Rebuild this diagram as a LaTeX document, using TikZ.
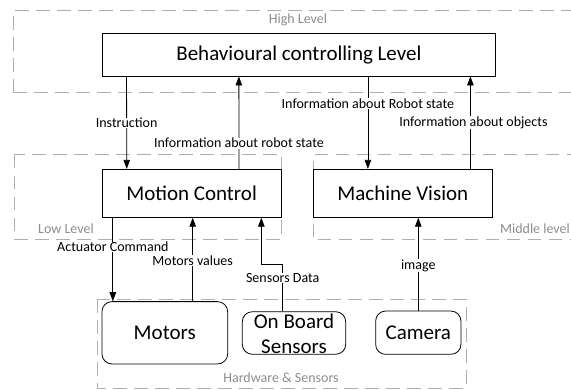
\documentclass[tikz,border=0pt]{standalone}
\usepackage{fontspec}
\setmainfont{Carlito}
\usetikzlibrary{arrows.meta,calc}
\definecolor{lvltext}{RGB}{140,140,140}
\definecolor{lvlline}{RGB}{175,175,175}
\tikzset{
  box/.style={draw=black, line width=0.8pt, rectangle, inner sep=0pt, font=\fontsize{21}{25}\selectfont},
  hwbox/.style={box, rounded corners=10pt},
  lvl/.style={draw=lvlline, line width=1pt, dash pattern=on 13.5pt off 7.5pt},
  lvllbl/.style={text=lvltext, font=\fontsize{14}{16}\selectfont, inner sep=0pt},
  arr/.style={draw=black, line width=0.8pt, -{Triangle[length=9pt,width=6.5pt]}},
  lbl/.style={fill=white, font=\fontsize{14}{16}\selectfont, inner sep=0.5pt, text=black}
}
\begin{document}
\begin{tikzpicture}[x=1pt,y=-1pt]
\useasboundingbox (0,0) rectangle (571,390);
% level frames
\draw[lvl] (13.3,93) -- (13.3,10.7) -- (580,10.7);
\draw[lvl] (13.3,93) -- (580,93);
\draw[lvl] (14.3,155) rectangle (281.7,239.3);
\draw[lvl] (580,154.3) -- (313.3,154.3) -- (313.3,240) -- (580,240);
\draw[lvl] (97.3,299.3) rectangle (466,388.3);
\node[lvllbl] (hl) at (298,20) {High Level};
\node[lvllbl] (ll) at (66,229) {Low Level};
\node[lvllbl] (ml) at (535,229) {Middle level};
\node[lvllbl] (hw) at (281,377.7) {Hardware \& Sensors};
% boxes
\node[box, minimum width=393.7pt, minimum height=42.7pt] (beh) at (298.9,54.7) {Behavioural controlling Level};
\node[box, minimum width=178.7pt, minimum height=48pt] (mc) at (191.6,193.3) {Motion Control};
\node[box, minimum width=179pt, minimum height=48pt] (mv) at (402.8,193.3) {Machine Vision};
\node[hwbox, minimum width=125.7pt, minimum height=62.3pt] (mot) at (164.8,332.8) {Motors};
\node[hwbox, minimum width=103.4pt, minimum height=42.6pt] (obs) at (294,333) {};
\node[font=\fontsize{21}{25}\selectfont, align=center, inner sep=0pt] (obst) at (294,334.2) {On Board\\Sensors};
\node[hwbox, minimum width=85.3pt, minimum height=43.3pt] (cam) at (418.3,332.7) {Camera};
% connectors
\draw[arr] ([xshift=24.9pt]beh.south west) -- ([xshift=24.9pt]mc.north west)
  node[lbl, pos=0.504] {Instruction};
\draw[arr] ([xshift=137.2pt]mc.north west) -- ([xshift=137.2pt]beh.south west)
  node[lbl, pos=0.279] {Information about robot state};
\draw[arr] ([xshift=55pt]beh.south -| mv.south west) -- ([xshift=55pt]mv.north west)
  node[lbl, pos=0.29] {Information about Robot state};
\draw[arr] ([xshift=-22.3pt]mv.north east) -- ([xshift=-22.3pt]mv.north east |- beh.south)
  node[lbl, pos=0.5, xshift=3pt] {Information about objects};
\draw[arr] ([xshift=11pt]mc.south west) -- ([xshift=11pt]mc.south west |- mot.north)
  node[lbl, pos=0.35] {Actuator Command};
\draw[arr] ([xshift=27.9pt]mot.north) -- ([xshift=27.9pt]mot.north |- mc.south)
  node[lbl, pos=0.486] {Motors values};
\draw[arr] ([xshift=-11.3pt]obs.north) -- ++(0,-46.7) node[lbl, pos=0.715] {Sensors Data}
  -| ([xshift=-20pt]mc.south east);
\draw[arr] (cam.north) -- (cam.north |- mv.south)
  node[lbl, pos=0.483] {image};
\end{tikzpicture}
\end{document}
